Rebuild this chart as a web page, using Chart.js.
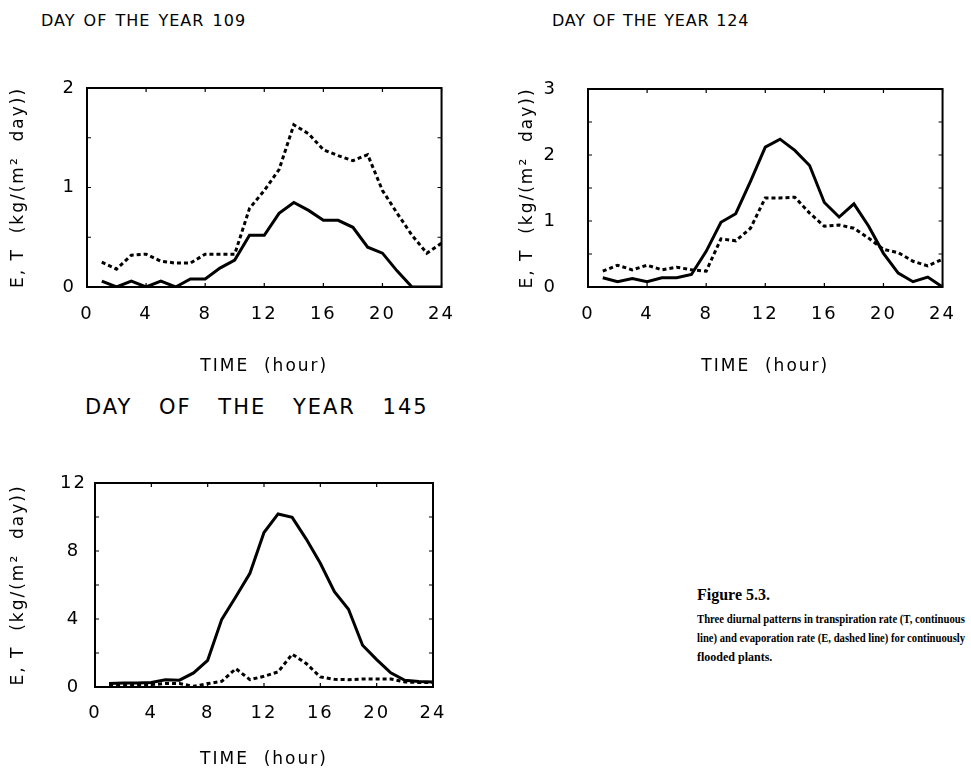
<!DOCTYPE html>
<html>
<head>
<meta charset="utf-8">
<script src="https://cdn.jsdelivr.net/npm/chart.js@4.4.1/dist/chart.umd.min.js"></script>
<style>
  body { margin: 0; background: #fff; width: 971px; height: 777px; position: relative; overflow: hidden; }
  canvas { position: absolute; }
  .ttl { position: absolute; font-family: 'DejaVu Sans', sans-serif; color: #000; white-space: nowrap; }
  .cap { position: absolute; left: 697px; font-family: 'Liberation Serif', 'Times New Roman', serif;
         font-weight: bold; color: #000; font-size: 12px; white-space: nowrap; transform-origin: 0 0; }
</style>
</head>
<body>
<div class="ttl" style="left:41px;top:11px;font-size:16px;letter-spacing:1px;word-spacing:2px">DAY OF THE YEAR 109</div>
<div class="ttl" style="left:552px;top:11px;font-size:16px;letter-spacing:0.8px;word-spacing:1px">DAY OF THE YEAR 124</div>
<div class="ttl" style="left:85px;top:395px;font-size:21px;letter-spacing:2px;word-spacing:18px">DAY OF THE YEAR 145</div>

<canvas id="c109" width="470" height="400" style="left:0;top:0"></canvas>
<canvas id="c124" width="491" height="400" style="left:480px;top:0"></canvas>
<canvas id="c145" width="470" height="387" style="left:0;top:390px"></canvas>

<div class="cap" style="top:586px;font-size:16px">Figure 5.3.</div>
<div class="cap fit" style="top:612px">Three diurnal patterns in transpiration rate (T, continuous</div>
<div class="cap fit" style="top:631px">line) and evaporation rate (E, dashed line) for continuously</div>
<div class="cap" style="top:650px">flooded plants.</div>

<script>
// hour of the day
const hours = [1, 2, 3, 4, 5, 6, 7, 8, 9, 10, 11, 12, 13, 14, 15, 16, 17, 18, 19, 20, 21, 22, 23, 24];
const xTicks = [0, 4, 8, 12, 16, 20, 24];

// day 109
const t109 = [0.06, 0, 0.06, 0, 0.06, 0, 0.08, 0.08, 0.19, 0.27, 0.52, 0.52, 0.74, 0.85, 0.77, 0.67, 0.67, 0.60, 0.40, 0.34, 0.16, 0, 0, 0];
const e109 = [0.25, 0.18, 0.32, 0.33, 0.26, 0.24, 0.24, 0.33, 0.33, 0.33, 0.79, 0.97, 1.18, 1.63, 1.54, 1.38, 1.32, 1.27, 1.33, 0.97, 0.74, 0.52, 0.34, 0.44];
const yTicks109 = [0, 1, 2];

// day 124
const t124 = [0.14, 0.08, 0.13, 0.08, 0.14, 0.14, 0.19, 0.54, 0.98, 1.11, 1.60, 2.12, 2.24, 2.07, 1.84, 1.28, 1.06, 1.26, 0.92, 0.51, 0.21, 0.08, 0.15, 0];
const e124 = [0.24, 0.33, 0.26, 0.33, 0.26, 0.30, 0.26, 0.24, 0.73, 0.70, 0.89, 1.35, 1.35, 1.36, 1.12, 0.92, 0.94, 0.89, 0.74, 0.57, 0.52, 0.39, 0.32, 0.42];
const yTicks124 = [0, 1, 2, 3];

// day 145
const t145 = [0.2, 0.24, 0.24, 0.26, 0.43, 0.4, 0.83, 1.57, 3.98, 5.31, 6.69, 9.09, 10.18, 9.98, 8.7, 7.28, 5.61, 4.57, 2.46, 1.61, 0.83, 0.39, 0.33, 0.3];
const e145 = [0.14, 0.14, 0.14, 0.14, 0.2, 0.2, 0.04, 0.2, 0.33, 1.08, 0.43, 0.63, 0.89, 1.93, 1.38, 0.59, 0.45, 0.43, 0.47, 0.47, 0.47, 0.3, 0.26, 0.26];
const yTicks145 = [0, 4, 8, 12];

const xTitle = 'TIME  (hour)';
const yTitle = 'E, T  (kg/(m\u00b2  day))';

Chart.defaults.font.family = "'DejaVu Sans', sans-serif";
Chart.defaults.color = '#000';

// the old plotter font is wide: spread the letters a little
const wideText = {
    id: 'wideText',
    beforeDraw(chart) { chart.ctx.letterSpacing = '2px'; }
};

// box round the plot with short inward ticks
const frame = {
    id: 'frame',
    afterDatasetsDraw(chart) {
        const { ctx, chartArea: a, scales } = chart;
        ctx.save();
        ctx.strokeStyle = '#000';
        ctx.lineWidth = 2;
        ctx.strokeRect(a.left, a.top, a.right - a.left, a.bottom - a.top);
        ctx.lineWidth = 1.2;
        ctx.beginPath();
        xTicks.forEach(v => {
            const px = scales.x.getPixelForValue(v);
            ctx.moveTo(px, a.bottom); ctx.lineTo(px, a.bottom - 4);
            ctx.moveTo(px, a.top); ctx.lineTo(px, a.top + 4);
        });
        const yt = chart.options.yTickList;
        const half = (yt[1] - yt[0]) / 2;
        for (let v = 0; v <= yt[yt.length - 1]; v += half) {
            const py = scales.y.getPixelForValue(v);
            ctx.moveTo(a.left, py); ctx.lineTo(a.left + 4, py);
            ctx.moveTo(a.right, py); ctx.lineTo(a.right - 4, py);
        }
        ctx.stroke();
        ctx.restore();
    }
};

function drawDay(id, tVals, eVals, yTickList, box) {
    new Chart(document.getElementById(id), {
        type: 'line',
        data: {
            datasets: [
                {
                    label: 'T',
                    data: hours.map((h, i) => ({ x: h, y: tVals[i] })),
                    borderColor: '#000',
                    borderWidth: 3,
                    pointRadius: 0,
                    tension: 0
                },
                {
                    label: 'E',
                    data: hours.map((h, i) => ({ x: h, y: eVals[i] })),
                    borderColor: '#000',
                    borderWidth: 3,
                    borderDash: [4, 3],
                    pointRadius: 0,
                    tension: 0
                }
            ]
        },
        options: {
            responsive: false,
            animation: false,
            yTickList: yTickList,
            layout: { padding: { left: 0, top: box.top, right: box.right, bottom: 0 } },
            plugins: { legend: { display: false }, tooltip: { enabled: false } },
            scales: {
                x: {
                    type: 'linear',
                    min: 0,
                    max: 24,
                    grid: { display: false, drawTicks: false },
                    border: { display: false },
                    afterBuildTicks: s => { s.ticks = xTicks.map(v => ({ value: v })); },
                    ticks: { padding: box.xPad, maxRotation: 0, autoSkip: false, font: { size: 18 } },
                    title: { display: true, text: xTitle, font: { size: 17 }, padding: { top: 0, bottom: box.xTitlePad } },
                    afterFit: s => { s.height = box.xH; }
                },
                y: {
                    min: 0,
                    max: yTickList[yTickList.length - 1],
                    grid: { display: false, drawTicks: false },
                    border: { display: false },
                    afterBuildTicks: s => { s.ticks = yTickList.map(v => ({ value: v })); },
                    ticks: { padding: box.yPad, crossAlign: 'center', font: { size: 18 } },
                    title: { display: true, text: yTitle, font: { size: 17 }, padding: { top: box.yTitlePad, bottom: 0 } },
                    afterFit: s => { s.width = box.yW; }
                }
            }
        },
        plugins: [wideText, frame]
    });
}

drawDay('c109', t109, e109, yTicks109, { top: 88, right: 25, xH: 113, yW: 87, xPad: 17, xTitlePad: 23, yPad: 12, yTitlePad: 8 });
drawDay('c124', t124, e124, yTicks124, { top: 89, right: 24, xH: 113, yW: 108, xPad: 17, xTitlePad: 23, yPad: 32, yTitlePad: 37 });
drawDay('c145', t145, e145, yTicks145, { top: 93, right: 37, xH: 90, yW: 95, xPad: 16, xTitlePad: 7, yPad: 10, yTitlePad: 8 });

// the caption lines are set full measure, like the printed page
document.querySelectorAll('.fit').forEach(el => {
    el.style.transform = 'scaleX(' + (268 / el.offsetWidth) + ')';
});
</script>
</body>
</html>
